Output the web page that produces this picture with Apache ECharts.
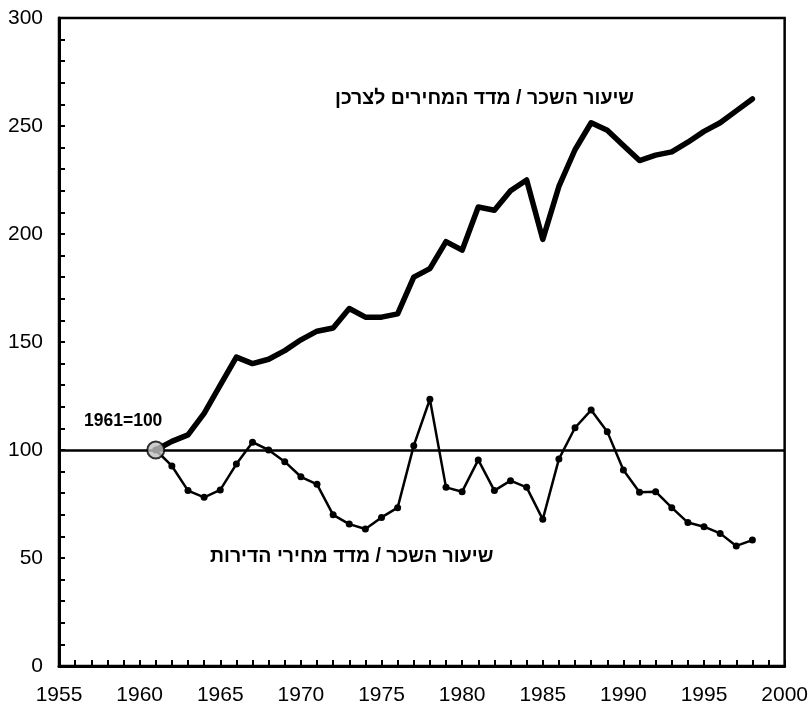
<!DOCTYPE html>
<html><head><meta charset="utf-8">
<script src="https://cdn.jsdelivr.net/npm/echarts@6/dist/echarts.min.js"></script>
<style>html,body{margin:0;padding:0;background:#fff}#c{width:811px;height:708px}</style>
</head><body><div id="c"></div>
<script>
const years = [1961,1962,1963,1964,1965,1966,1967,1968,1969,1970,1971,1972,1973,1974,1975,1976,1977,1978,1979,1980,1981,1982,1983,1984,1985,1986,1987,1988,1989,1990,1991,1992,1993,1994,1995,1996,1997,1998];
const wageCpi = [100,104,107,117,130,143,140,142,146,151,155,156.5,165.5,161.5,161.5,163,180,184,196.5,192.5,212.5,211,220,225,197.5,222,239,251.5,248,241,234,236.5,238,242.5,247.5,251.5,257,262.5];
const wageHousing = [100,92.6,81.2,78.1,81.5,93.5,103.6,100,94.6,87.6,84.1,70,65.7,63.4,68.8,73.3,102,123.5,82.7,80.7,95.4,81.2,85.8,82.7,67.9,95.8,110.3,118.5,108.5,90.7,80.4,80.7,73.3,66.4,64.5,61.4,55.6,58.3];
const baseYear = 1961, baseValue = 100;
const labelCpi = 'שיעור השכר / מדד המחירים לצרכן';
const labelHousing = 'שיעור השכר / מדד מחירי הדירות';
const labelBase = '1961=100';

const font = '"Liberation Sans", Arial, sans-serif';
const chart = echarts.init(document.getElementById('c'));
chart.setOption({
  animation: false,
  grid: {left: 59, right: 23, top: 18, bottom: 42, show: true, borderColor: '#000', borderWidth: 2.5},
  xAxis: {
    type: 'value', min: 1955, max: 2000, interval: 5,
    axisLine: {show: true, lineStyle: {color: '#000', width: 3}},
    axisTick: {show: true, inside: true, length: 6, lineStyle: {color: '#000', width: 2}},
    minorTick: {show: true, splitNumber: 5, length: 6, lineStyle: {color: '#000', width: 2}},
    splitLine: {show: false},
    axisLabel: {color: '#000', fontSize: 21, fontFamily: font, margin: 19, formatter: v => String(v)}
  },
  yAxis: {
    type: 'value', min: 0, max: 300, interval: 50,
    axisLine: {show: true, lineStyle: {color: '#000', width: 3}},
    axisTick: {show: true, inside: true, length: 6, lineStyle: {color: '#000', width: 2}},
    minorTick: {show: true, splitNumber: 5, length: 6, lineStyle: {color: '#000', width: 2}},
    splitLine: {show: false},
    axisLabel: {color: '#000', fontSize: 21, fontFamily: font, margin: 16}
  },
  series: [
    {
      type: 'line', data: years.map((y,i)=>[y, wageCpi[i]]),
      showSymbol: false, symbol: 'none',
      lineStyle: {color: '#000', width: 5.5, join: 'round', cap: 'round'},
      z: 3,
      markLine: {
        silent: true, symbol: 'none', label: {show: false},
        lineStyle: {color: '#000', width: 2.5, type: 'solid'},
        data: [{yAxis: baseValue}]
      }
    },
    {
      type: 'line', data: years.map((y,i)=>[y, wageHousing[i]]),
      symbol: 'circle', symbolSize: 7, showAllSymbol: true,
      itemStyle: {color: '#000'},
      lineStyle: {color: '#000', width: 2.5},
      z: 4
    },
    {
      type: 'scatter', data: [[baseYear, baseValue]],
      symbol: 'circle', symbolSize: 17,
      itemStyle: {color: '#c0c0c0', borderColor: '#000', borderWidth: 2},
      z: 5
    }
  ],
  graphic: [
    {type: 'text', x: 335, y: 99, style: {text: labelCpi, font: 'bold 19.5px ' + font, fill: '#000', align: 'left', verticalAlign: 'middle'}},
    {type: 'text', x: 210, y: 557, style: {text: labelHousing, font: 'bold 19.5px ' + font, fill: '#000', align: 'left', verticalAlign: 'middle'}},
    {type: 'text', x: 84, y: 421, style: {text: labelBase, font: 'bold 17.5px ' + font, fill: '#000', align: 'left', verticalAlign: 'middle'}}
  ]
});
</script></body></html>
